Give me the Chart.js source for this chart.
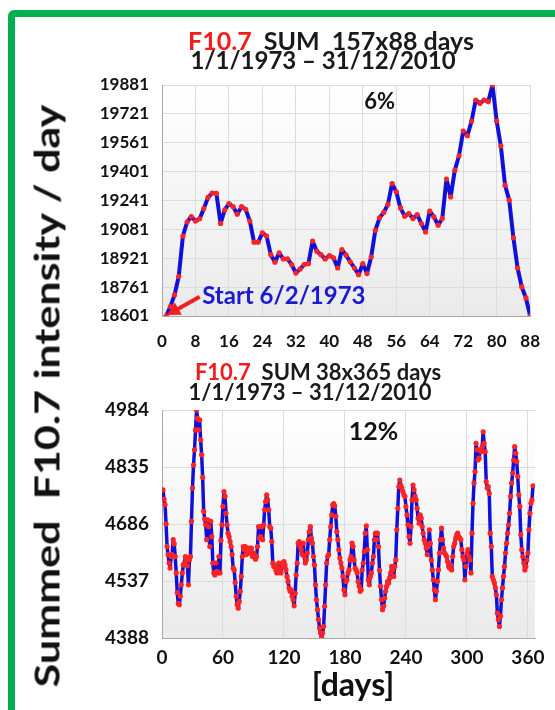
<!DOCTYPE html>
<html>
<head>
<meta charset="utf-8">
<script src="https://cdn.jsdelivr.net/npm/chart.js@4.4.1/dist/chart.umd.min.js"></script>
<style>
  body { margin: 0; width: 555px; height: 710px; overflow: hidden; background: #fff; position: relative; font-family: Lato, "Open Sans", sans-serif; }
  #frame { position: absolute; left: 8px; top: 10px; width: 640px; height: 800px; border: 7px solid #00b050; border-radius: 6px; box-sizing: border-box; }
  .wrap { position: absolute; left: 0; width: 555px; }
  .line { position: absolute; font-weight: bold; color: #1a1a1a; white-space: nowrap; transform: translateX(-50%); line-height: 1; }
  .red { color: #f21c1c; }
  #ytitle { position: absolute; left: 46px; top: 396px; transform: translate(-50%, -50%) rotate(-90deg) scaleX(1.23); font-size: 35px; font-weight: bold; color: #111; white-space: nowrap; line-height: 1; }
  #days { position: absolute; left: 353px; top: 668px; transform: translateX(-50%); font-size: 32px; font-weight: bold; color: #111; line-height: 1; }
</style>
</head>
<body>
<div id="frame"></div>

<div class="wrap" style="top:0;height:350px"><canvas id="topChart" width="555" height="350"></canvas></div>
<div class="wrap" style="top:350px;height:360px"><canvas id="lowChart" width="555" height="360"></canvas></div>

<div class="line" style="left:331px;top:28px;font-size:25px"><span class="red">F10.7</span>&nbsp; SUM&nbsp; 157x88 days</div>
<div class="line" style="left:323px;top:48px;font-size:24px">1/1/1973 – 31/12/2010</div>
<div class="line" style="left:318px;top:361px;font-size:22px"><span class="red">F10.7</span>&nbsp; SUM 38x365 days</div>
<div class="line" style="left:310px;top:381px;font-size:22px">1/1/1973 – 31/12/2010</div>

<div id="ytitle">Summed&nbsp; F10.7 intensity / day</div>
<div id="days">[days]</div>

<script>
// 157 periods of 88 days, summed, one value per day of the period
const topSum = [
  18601, 18653, 18718, 18820, 19044, 19122, 19152, 19127, 19140, 19196,
  19258, 19282, 19280, 19114, 19189, 19224, 19207, 19165, 19207, 19192,
  19127, 19010, 19010, 19062, 19044, 18941, 18899, 18951, 18917, 18917,
  18886, 18839, 18861, 18886, 18891, 19016, 18960, 18941, 18917, 18936,
  18923, 18867, 18969, 18938, 18901, 18867, 18830, 18891, 18836, 18928,
  19076, 19145, 19175, 19219, 19335, 19289, 19200, 19154, 19169, 19141,
  19163, 19113, 19067, 19182, 19150, 19104, 19141, 19360, 19261, 19409,
  19489, 19626, 19600, 19681, 19798, 19779, 19798, 19789, 19881, 19681,
  19543, 19326, 19243, 19034, 18867, 18762, 18701, 18601
];
const topTicksX = [0, 8, 16, 24, 32, 40, 48, 56, 64, 72, 80, 88];
const topTicksY = [18601, 18761, 18921, 19081, 19241, 19401, 19561, 19721, 19881];

// 38 years of 365 days, summed
const lowSum = [
  4775, 4751, 4736, 4686, 4627, 4606, 4584, 4571, 4601, 4606,
  4645, 4634, 4601, 4558, 4507, 4478, 4475, 4497, 4527, 4558,
  4579, 4584, 4601, 4592, 4577, 4527, 4592, 4601, 4693, 4780,
  4840, 4880, 4932, 4984, 4962, 4932, 4958, 4906, 4867, 4808,
  4719, 4699, 4684, 4645, 4697, 4679, 4627, 4693, 4653, 4584,
  4558, 4553, 4584, 4562, 4558, 4601, 4558, 4643, 4684, 4732,
  4771, 4758, 4714, 4684, 4662, 4653, 4640, 4627, 4606, 4571,
  4566, 4533, 4497, 4475,
  4466, 4484, 4510, 4549, 4601, 4627, 4619, 4627, 4606, 4619,
  4610, 4623, 4614, 4623, 4601, 4610, 4606, 4594, 4601, 4627,
  4679, 4649, 4653, 4679, 4645, 4684, 4723, 4745, 4762, 4749,
  4723, 4679, 4675, 4640, 4584, 4575, 4579, 4566, 4558, 4571,
  4584, 4566, 4558, 4584, 4575, 4588, 4579, 4566, 4549,
  4536, 4519, 4510, 4514, 4497, 4488, 4472, 4505, 4553, 4584,
  4636, 4640, 4627, 4619, 4606, 4636, 4601, 4584, 4592, 4610,
  4645, 4666, 4679, 4649, 4636, 4601,
  4579, 4527, 4488, 4462, 4436, 4414, 4401, 4388, 4401, 4418,
  4471, 4527, 4584, 4601, 4606, 4645, 4679, 4710, 4736, 4739,
  4733, 4706, 4666, 4645, 4619, 4597, 4584, 4571, 4549, 4514,
  4501, 4536, 4540, 4558, 4566, 4592, 4601, 4636, 4627,
  4592, 4571, 4566, 4558, 4536, 4523, 4510, 4514, 4566, 4584,
  4614, 4662, 4681, 4619, 4540, 4527, 4549, 4558, 4584, 4601,
  4645, 4662, 4645, 4662, 4627, 4565, 4523, 4488, 4462, 4471,
  4492, 4510, 4523, 4536, 4532,
  4545, 4558, 4575, 4566, 4549, 4575, 4592, 4671, 4727,
  4784, 4801, 4788, 4780, 4771, 4762, 4758, 4732, 4710, 4684,
  4653, 4636, 4679, 4749, 4788, 4775, 4758, 4749, 4727, 4701,
  4688, 4710, 4701, 4679, 4662, 4645, 4636, 4623, 4606, 4627,
  4671, 4636, 4592, 4566, 4540, 4514, 4488, 4510, 4536, 4566,
  4610, 4645, 4675, 4645, 4623, 4610, 4606, 4601, 4588, 4575,
  4571, 4579, 4566, 4601, 4627, 4636, 4649, 4658, 4662, 4653,
  4649, 4645, 4619, 4601, 4592,
  4540, 4575, 4610, 4619, 4601, 4592, 4558, 4662, 4740, 4793,
  4823, 4897, 4880, 4853, 4858, 4880, 4875, 4888, 4927, 4897,
  4875, 4797, 4780, 4784, 4766, 4662, 4627, 4549, 4540, 4532,
  4519, 4501, 4453, 4436, 4418, 4445, 4488, 4519, 4549,
  4575, 4610, 4636, 4662, 4684, 4714, 4758, 4793, 4819, 4853,
  4888, 4871, 4849, 4810, 4762, 4732, 4658, 4619, 4601, 4584,
  4566, 4575, 4592, 4610, 4671, 4714, 4740, 4749, 4786
];
const lowTicksX = [0, 60, 120, 180, 240, 300, 360];
const lowTicksY = [4388, 4537, 4686, 4835, 4984];

// light grey gradient behind the plot area
const plotBg = {
  id: 'plotBg',
  beforeDraw(chart) {
    const { ctx, chartArea: a } = chart;
    const g = ctx.createLinearGradient(0, a.top, 0, a.bottom);
    g.addColorStop(0, '#ffffff');
    g.addColorStop(1, '#eaeaea');
    ctx.save();
    ctx.fillStyle = g;
    ctx.fillRect(a.left, a.top, a.width, a.height);
    ctx.restore();
  }
};

// texts and arrows placed in data coordinates
const notes = {
  id: 'notes',
  afterDatasetsDraw(chart, args, opts) {
    const { ctx } = chart;
    const sx = chart.scales.x, sy = chart.scales.y;
    ctx.save();
    for (const a of opts.arrows || []) {
      const x1 = sx.getPixelForValue(a.from[0]), y1 = sy.getPixelForValue(a.from[1]);
      const x2 = sx.getPixelForValue(a.to[0]), y2 = sy.getPixelForValue(a.to[1]);
      const ang = Math.atan2(y2 - y1, x2 - x1);
      ctx.strokeStyle = a.color;
      ctx.fillStyle = a.color;
      ctx.lineWidth = 4;
      ctx.beginPath();
      ctx.moveTo(x1, y1);
      ctx.lineTo(x2 - 9 * Math.cos(ang), y2 - 9 * Math.sin(ang));
      ctx.stroke();
      ctx.beginPath();
      ctx.moveTo(x2, y2);
      ctx.lineTo(x2 - 13 * Math.cos(ang) + 7 * Math.sin(ang), y2 - 13 * Math.sin(ang) - 7 * Math.cos(ang));
      ctx.lineTo(x2 - 13 * Math.cos(ang) - 7 * Math.sin(ang), y2 - 13 * Math.sin(ang) + 7 * Math.cos(ang));
      ctx.closePath();
      ctx.fill();
    }
    for (const t of opts.texts || []) {
      ctx.font = t.font;
      ctx.fillStyle = t.color;
      ctx.textAlign = t.align || 'center';
      ctx.textBaseline = 'middle';
      ctx.fillText(t.text, sx.getPixelForValue(t.x), sy.getPixelForValue(t.y));
    }
    ctx.restore();
  }
};

function makeChart(canvasId, values, xTicks, yTicks, xMax, padTop, xAxisHeight, tickPad, lineWidth, fontSize, notesOpts) {
  const points = values.map((v, i) => ({ x: i + 1, y: v }));
  const tickFont = { family: 'Lato', weight: 'bold', size: fontSize };
  return new Chart(document.getElementById(canvasId), {
    type: 'line',
    data: {
      datasets: [{
        data: points,
        borderColor: '#1010d8',
        borderWidth: lineWidth,
        borderJoinStyle: 'round',
        borderCapStyle: 'round',
        pointRadius: 2.6,
        pointBackgroundColor: '#ff2323',
        pointBorderWidth: 0,
        tension: 0
      }]
    },
    options: {
      responsive: false,
      animation: false,
      layout: { padding: { left: 0, right: 20, top: padTop, bottom: 0 } },
      plugins: { legend: { display: false }, tooltip: { enabled: false }, notes: notesOpts },
      scales: {
        x: {
          type: 'linear',
          min: 0,
          max: xMax,
          afterBuildTicks: s => { s.ticks = xTicks.map(v => ({ value: v })); },
          afterFit: s => { s.height = xAxisHeight; },
          grid: { color: '#dcdcdc', drawTicks: false },
          border: { color: '#a8a8a8' },
          ticks: { font: tickFont, color: '#111', padding: tickPad, maxRotation: 0, autoSkip: false, callback: v => String(v) }
        },
        y: {
          min: yTicks[0],
          max: yTicks[yTicks.length - 1],
          afterBuildTicks: s => { s.ticks = yTicks.map(v => ({ value: v })); },
          afterFit: s => { s.width = 162; },
          grid: { color: '#dcdcdc', drawTicks: false },
          border: { color: '#a8a8a8' },
          ticks: { font: tickFont, color: '#111', padding: 13, callback: v => String(v) }
        }
      }
    },
    plugins: [plotBg, notes]
  });
}

makeChart('topChart', topSum, topTicksX, topTicksY, 88, 85, 34, 15, 4, 17, {
  texts: [
    { text: '6%', x: 52, y: 19787, font: 'bold 22px Lato', color: '#111' },
    { text: 'Start 6/2/1973', x: 9.6, y: 18712, font: 'bold 24px Lato', color: '#1a1ad0', align: 'left' }
  ],
  arrows: [{ from: [9.0, 18708], to: [1.2, 18606], color: '#f02020' }]
});

makeChart('lowChart', lowSum, lowTicksX, lowTicksY, 367, 60, 72, 8, 3.5, 19, {
  texts: [{ text: '12%', x: 208, y: 4926, font: 'bold 25px Lato', color: '#111' }]
});
</script>
</body>
</html>
